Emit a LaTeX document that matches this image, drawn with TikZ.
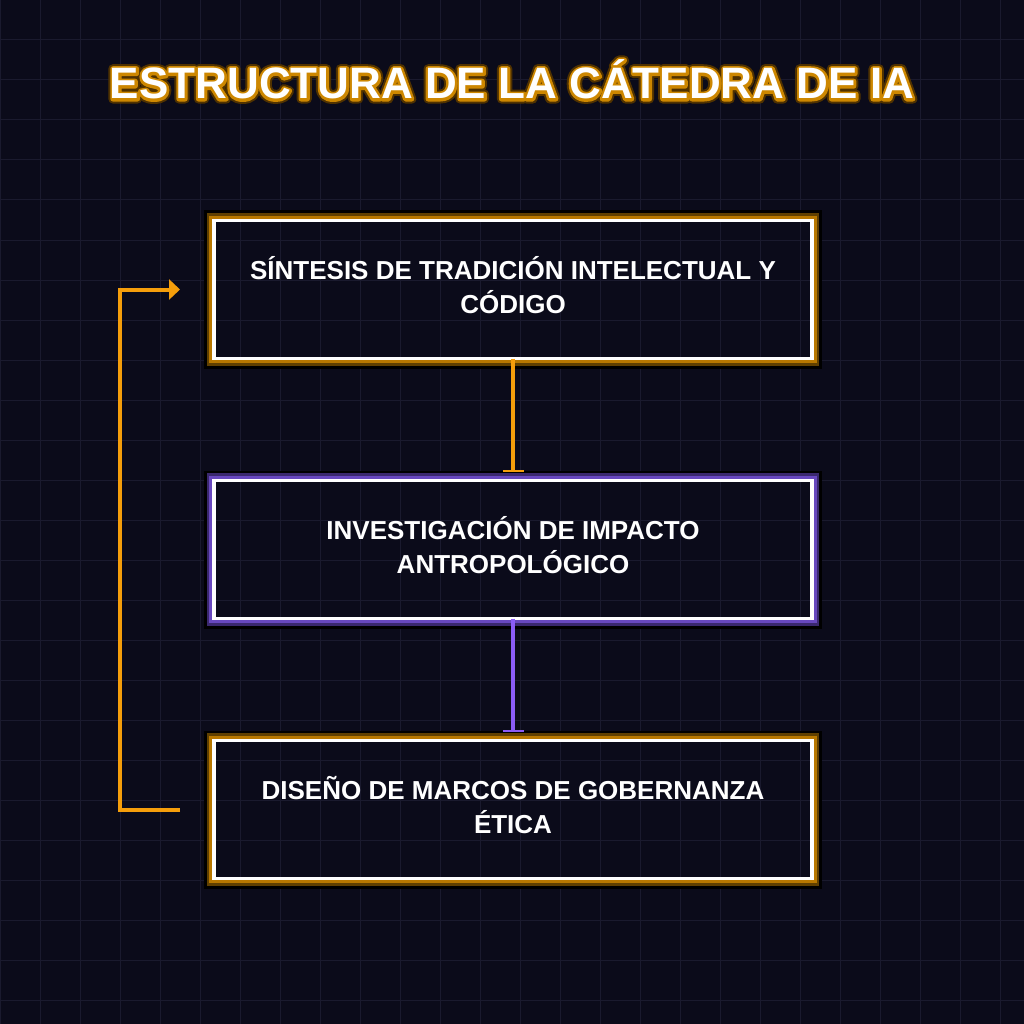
\documentclass[tikz,border=0pt]{standalone}
\usepackage{fontspec}
\setmainfont{Liberation Sans}
\usetikzlibrary{arrows.meta,positioning}
\definecolor{bgnight}{RGB}{11,11,26}
\definecolor{gridnight}{RGB}{26,26,46}
\definecolor{amberline}{RGB}{245,158,11}
\definecolor{violetline}{RGB}{139,92,246}
\definecolor{amberdark}{RGB}{96,64,0}
\definecolor{ambermid}{RGB}{184,120,0}
\definecolor{violetdark}{RGB}{58,40,110}
\definecolor{violetmid}{RGB}{104,72,190}
\definecolor{titleedge}{RGB}{205,135,0}
\definecolor{titledark}{RGB}{80,50,0}
% outlined text through the pdf text render mode
\newcommand{\strokedtext}[2]{\special{pdf:literal direct 1 Tr #1 w 1 j}#2\special{pdf:literal direct 0 Tr}}
\tikzset{
    stagebox/.style={
        rectangle,
        draw=white,
        line width=3.4pt,
        minimum width=598pt,
        minimum height=138pt,
        inner sep=0pt,
        outer sep=0pt,
        align=center,
        text=white,
        text depth=9pt,
        font=\fontsize{26}{34}\selectfont\bfseries
    },
    titletext/.style={anchor=base, inner sep=0pt, font=\fontsize{44}{52}\selectfont\bfseries},
    gridline/.style={draw=gridnight, line width=1pt},
    amberflow/.style={-{Bar[width=21pt,line width=2pt]}, line width=4pt, draw=amberline, shorten >=9pt},
    violetflow/.style={-{Bar[width=21pt,line width=2pt]}, line width=4pt, draw=violetline, shorten >=9pt},
    loopline/.style={-{Triangle[length=11pt,width=20pt]}, line width=4pt, draw=amberline},
}

\begin{document}
\begin{tikzpicture}[x=1pt, y=-1pt]
    % Canvas and grid
    \fill[bgnight] (0,0) rectangle (1024,1024);
    \useasboundingbox (0,0) rectangle (1024,1024);
    \foreach \g in {0,40,...,1000} {
        \draw[gridline] (\g,0) -- (\g,1024);
        \draw[gridline] (0,\g) -- (1024,\g);
    }

    % Title with glow
    \node[titletext, text=titledark] (title) at (512,99) {\strokedtext{9}{ESTRUCTURA DE LA CÁTEDRA DE IA}};
    \node[titletext, text=titleedge] at (title.base) {\strokedtext{5}{ESTRUCTURA DE LA CÁTEDRA DE IA}};
    \node[titletext, text=white] at (title.base) {ESTRUCTURA DE LA CÁTEDRA DE IA};

    % Stages
    \node[stagebox] (sintesis) at (513,289.5) {SÍNTESIS DE TRADICIÓN INTELECTUAL Y\\CÓDIGO};
    \node[stagebox, below=122pt of sintesis] (investigacion) {INVESTIGACIÓN DE IMPACTO\\ANTROPOLÓGICO};
    \node[stagebox, below=122pt of investigacion] (diseno) {DISEÑO DE MARCOS DE GOBERNANZA\\ÉTICA};

    % Glow round the stages
    \foreach \b/\dk/\md in {sintesis/amberdark/ambermid, investigacion/violetdark/violetmid, diseno/amberdark/ambermid}
        \foreach \d/\w/\c in {5.85/8.3/black, 4.5/5.6/\dk, 3.2/3/\md}
            \draw[draw=\c, line width=\w pt] ([shift={(-\d pt,\d pt)}]\b.north west) rectangle ([shift={(\d pt,-\d pt)}]\b.south east);

    % Flow between stages
    \draw[amberflow] (sintesis.south) -- (investigacion.north);
    \draw[violetflow] (investigacion.south) -- (diseno.north);

    % Feedback loop
    \coordinate (loopstart) at ([xshift=-34pt]diseno.west);
    \coordinate (loopend) at ([xshift=-34pt]sintesis.west);
    \draw[loopline] (loopstart) -- ++(-60pt,0pt) |- (loopend);
\end{tikzpicture}
\end{document}
